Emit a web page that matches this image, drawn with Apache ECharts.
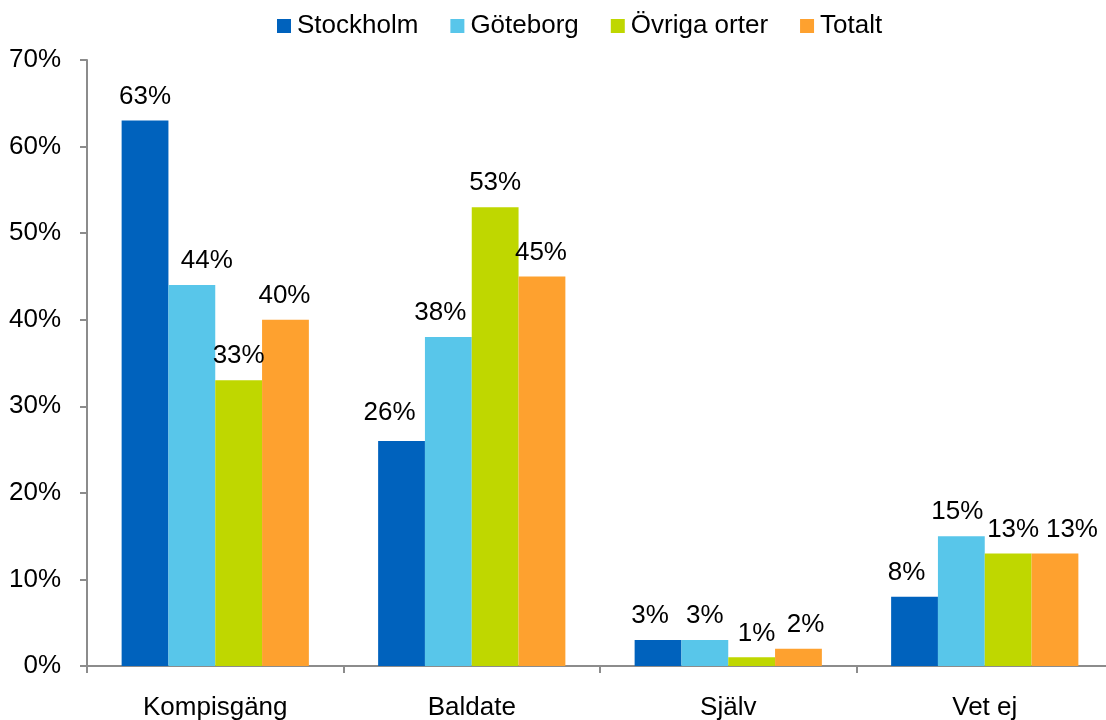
<!DOCTYPE html>
<html>
<head>
<meta charset="utf-8">
<script src="https://cdn.jsdelivr.net/npm/echarts@6/dist/echarts.min.js"></script>
<style>
  html, body { margin: 0; padding: 0; background: #fff; }
  #chart { width: 1106px; height: 720px; }
</style>
</head>
<body>
<div id="chart"></div>
<script>
const categories = ['Kompisgäng', 'Baldate', 'Själv', 'Vet ej']
const seriesNames = ['Stockholm', 'Göteborg', 'Övriga orter', 'Totalt']
const stockholm = [63, 26, 3, 8]
const goteborg = [44, 38, 3, 15]
const ovriga = [33, 53, 1, 13]
const totalt = [40, 45, 2, 13]
const colors = ['#0062bd', '#58c6ea', '#bfd700', '#fea12f']

const values = [stockholm, goteborg, ovriga, totalt]
const font = 'Liberation Sans, Arial, sans-serif'
const axisColor = '#8c8c8c'

// small sideways nudges so neighbouring labels don't collide (as in the original)
const labelNudge = [
  [[0, 0], [-12, -4], [-8, 0], [-8, 0]],
  [[15, 0], [-8, 0], [0, 0], [-4, 0]],
  [[0, 0], [0, 0], [5, 0], [5, 0]],
  [[-1, 0], [-1, 0], [7, 0], [17, 0]]
]

const chart = echarts.init(document.getElementById('chart'))

chart.setOption({
  animation: false,
  legend: {
    data: seriesNames,
    top: 8,
    left: 272,
    itemWidth: 14,
    itemHeight: 14,
    itemGap: 32,
    icon: 'rect',
    textStyle: { fontFamily: font, fontSize: 26, color: '#000', padding: [0, 0, 0, 1] }
  },
  // the plot runs a little past the right edge of the window
  grid: { left: 87, top: 60, bottom: 54, width: 1026, outerBoundsMode: 'none' },
  xAxis: {
    type: 'category',
    data: categories,
    axisLine: { lineStyle: { color: axisColor, width: 2 } },
    axisTick: { show: true, length: 7, lineStyle: { color: axisColor, width: 2 } },
    axisLabel: { color: '#000', fontFamily: font, fontSize: 26, margin: 29 }
  },
  yAxis: {
    type: 'value',
    min: 0,
    max: 70,
    interval: 10,
    axisLine: { show: true, lineStyle: { color: axisColor, width: 2 } },
    axisTick: { show: true, length: 7, lineStyle: { color: axisColor, width: 2 } },
    splitLine: { show: false },
    axisLabel: { color: '#000', fontFamily: font, fontSize: 26, margin: 26, formatter: '{value}%' }
  },
  series: seriesNames.map((name, i) => ({
    name: name,
    type: 'bar',
    data: values[i].map((v, j) => ({ value: v, label: { offset: labelNudge[i][j] } })),
    barGap: '0%',
    barCategoryGap: '27%',
    itemStyle: { color: colors[i] },
    label: {
      show: true,
      position: 'top',
      distance: 11,
      formatter: '{c}%',
      color: '#000',
      fontFamily: font,
      fontSize: 26
    }
  }))
})
</script>
</body>
</html>
